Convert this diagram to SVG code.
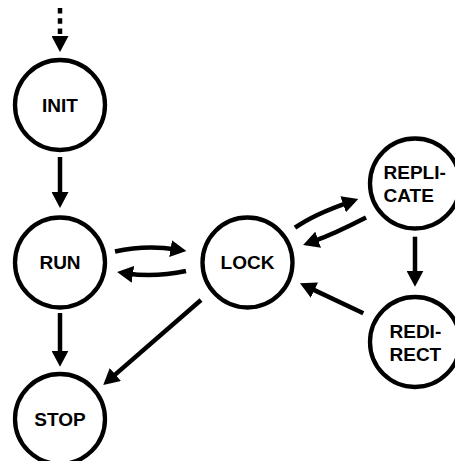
<svg xmlns="http://www.w3.org/2000/svg" width="455" height="461" viewBox="0 0 455 461">
  <style>
    .state circle { fill: #fff; stroke: #000; stroke-width: 4.3; }
    .state text { font-family: "Liberation Sans", Arial, Helvetica, sans-serif; font-weight: bold; font-size: 19px; fill: #000; }
    .edge { fill: none; stroke: #000; stroke-width: 4.5; marker-end: url(#head); }
    .start { stroke-dasharray: 5.5 4.8; }
  </style>
  <defs>
    <!-- solid triangular arrowhead; tip sits 10px past the path end -->
    <marker id="head" markerUnits="userSpaceOnUse" markerWidth="16" markerHeight="17" refX="6" refY="8.5" orient="auto">
      <path d="M0,0 L16,8.5 L0,17 z" fill="#000"/>
    </marker>
  </defs>

  <rect width="455" height="461" fill="#fff"/>

  <g id="connectors">
    <path class="edge start" d="M60,8 L60,42"/>
    <path class="edge" d="M60,157 L60,198"/>
    <path class="edge" d="M60,313 L60,356.7"/>
    <path class="edge" d="M115,251.5 Q146,244.5 176.5,249.5"/>
    <path class="edge" d="M186,271 Q155,277.5 127,273.5"/>
    <path class="edge" d="M201,300 L110.8,378.4"/>
    <path class="edge" d="M295,227.7 Q314.2,214.2 348.8,202.3"/>
    <path class="edge" d="M366,217.5 Q334,234 312.5,241.7"/>
    <path class="edge" d="M415,236.7 L415,276.7"/>
    <path class="edge" d="M363.3,313.3 L309,287.6"/>
  </g>

  <g id="init" class="state">
    <circle cx="60" cy="105" r="45"/>
    <text x="60" y="111.7" text-anchor="middle">INIT</text>
  </g>
  <g id="run" class="state">
    <circle cx="60" cy="262.5" r="45"/>
    <text x="60" y="269.3" text-anchor="middle">RUN</text>
  </g>
  <g id="stop" class="state">
    <circle cx="60" cy="419" r="45"/>
    <text x="60" y="426.2" text-anchor="middle">STOP</text>
  </g>
  <g id="lock" class="state">
    <circle cx="247.5" cy="262.5" r="45"/>
    <text x="247.5" y="269.3" text-anchor="middle">LOCK</text>
  </g>
  <g id="replicate" class="state">
    <circle cx="415" cy="183.5" r="45"/>
    <text x="383.5" y="179.3">REPLI-</text>
    <text x="383.5" y="202.3">CATE</text>
  </g>
  <g id="redirect" class="state">
    <circle cx="415" cy="342" r="45"/>
    <text x="389.5" y="337.7">REDI-</text>
    <text x="389.5" y="361">RECT</text>
  </g>
</svg>
